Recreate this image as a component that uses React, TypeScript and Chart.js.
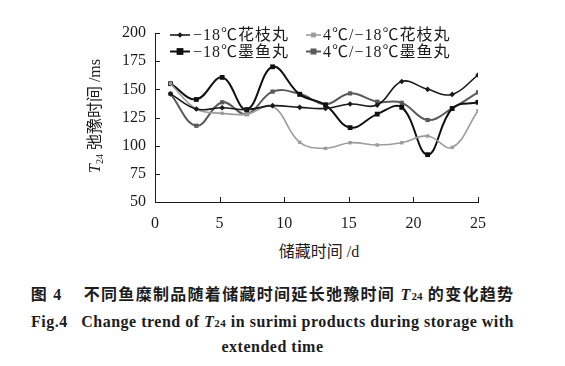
import React, { useEffect, useRef } from 'react';
import { Chart, registerables } from 'chart.js';
Chart.register(...registerables);

// storage days (x) of each measurement
const days = [1.2, 3.2, 5.2, 7.1, 9.1, 11.2, 13.2, 15.1, 17.2, 19.1, 21.1, 23.0, 25.0];
const seriesLabels = ['−18℃花枝丸', '4℃/−18℃花枝丸', '−18℃墨鱼丸', '4℃/−18℃墨鱼丸'];
const hzw18 = [146, 132.5, 133.7, 132, 135.5, 134, 133, 137, 136, 157, 150, 145.5, 162.7];
const hzw418 = [155, 132.5, 128.7, 128, 135, 103, 97.6, 102.6, 100.6, 102.6, 108.6, 98.5, 131];
const myw18 = [155, 141, 160.6, 132, 170, 145.5, 136, 116, 128, 134, 92, 133, 138.5];
const myw418 = [146, 117.7, 138.5, 128, 148, 146, 136.7, 146.4, 139, 138, 122.8, 133, 147.3];
const xTicks = [0, 5, 10, 15, 20, 25];
const yTicks = [50, 75, 100, 125, 150, 175, 200];

const SERIF = '"Liberation Serif", "Times New Roman", "Noto Sans CJK SC", serif';
const INK = '#1c1c1c';

const styles = [
  { color: '#1a1a1a', point: 'rectRot', r: 2.8, w: 1.6 },
  { color: '#9c9c9c', point: 'rect', r: 2.4, w: 1.6 },
  { color: '#101010', point: 'rect', r: 3.4, w: 2 },
  { color: '#5a5a5a', point: 'rect', r: 3, w: 2 },
];

const inwardTicks = {
  id: 'inwardTicks',
  afterDraw(chart: any) {
    const ctx = chart.ctx;
    const x = chart.scales.x;
    const y = chart.scales.y;
    const area = chart.chartArea;
    ctx.save();
    ctx.strokeStyle = INK;
    ctx.lineWidth = 1;
    ctx.beginPath();
    xTicks.forEach((v) => {
      const px = Math.round(x.getPixelForValue(v)) + 0.5;
      ctx.moveTo(px, area.bottom);
      ctx.lineTo(px, area.bottom - 5);
    });
    yTicks.forEach((v) => {
      const py = Math.round(y.getPixelForValue(v)) + 0.5;
      ctx.moveTo(area.left, py);
      ctx.lineTo(area.left + 5, py);
    });
    ctx.stroke();

    // legend
    const cols = [
      { x0: 170, x1: 190, tx: 193 },
      { x0: 306, x1: 321, tx: 323 },
    ];
    const rows = [35, 51.5];
    chart.data.datasets.forEach((ds: any, i: number) => {
      const c = cols[i % 2];
      const ry = rows[Math.floor(i / 2)];
      const st = styles[i];
      ctx.strokeStyle = st.color;
      ctx.lineWidth = st.w;
      ctx.beginPath();
      ctx.moveTo(c.x0, ry);
      ctx.lineTo(c.x1, ry);
      ctx.stroke();
      ctx.fillStyle = st.color;
      const mx = (c.x0 + c.x1) / 2;
      const r = st.r;
      if (st.point === 'rectRot') {
        ctx.beginPath();
        ctx.moveTo(mx, ry - r);
        ctx.lineTo(mx + r, ry);
        ctx.lineTo(mx, ry + r);
        ctx.lineTo(mx - r, ry);
        ctx.closePath();
        ctx.fill();
      } else {
        ctx.fillRect(mx - r, ry - r, 2 * r, 2 * r);
      }
      ctx.fillStyle = INK;
      ctx.font = `16px ${SERIF}`;
      (ctx as any).letterSpacing = '1px';
      ctx.textBaseline = 'middle';
      ctx.textAlign = 'left';
      ctx.fillText(ds.label, c.tx, ry + 1);
    });
    ctx.restore();
  },
};

export default function App() {
  const ref = useRef<HTMLCanvasElement | null>(null);
  useEffect(() => {
    if (!ref.current) return;
    const all = [hzw18, hzw418, myw18, myw418];
    const chart = new Chart(ref.current, {
      type: 'line',
      data: {
        datasets: all.map((vals, i) => ({
          label: seriesLabels[i],
          data: days.map((d, j) => ({ x: d, y: vals[j] })),
          borderColor: styles[i].color,
          backgroundColor: styles[i].color,
          borderWidth: styles[i].w,
          pointStyle: styles[i].point as any,
          pointRadius: styles[i].r,
          pointBorderWidth: 0,
          tension: 0.4,
          fill: false,
        })),
      },
      options: {
        animation: false,
        responsive: false,
        maintainAspectRatio: false,
        layout: { padding: { left: 0, right: 87, top: 33, bottom: 0 } },
        plugins: { legend: { display: false }, tooltip: { enabled: false } },
        scales: {
          x: {
            type: 'linear',
            min: 0,
            max: 25,
            afterBuildTicks: (s: any) => {
              s.ticks = xTicks.map((v) => ({ value: v }));
            },
            afterFit: (s: any) => {
              s.height = 38;
            },
            grid: { display: false, drawTicks: false },
            border: { display: true, color: INK, width: 1 },
            ticks: { color: INK, padding: 12, font: { family: SERIF, size: 16 } },
          },
          y: {
            type: 'linear',
            min: 50,
            max: 200,
            afterBuildTicks: (s: any) => {
              s.ticks = yTicks.map((v) => ({ value: v }));
            },
            afterFit: (s: any) => {
              s.width = 155;
            },
            grid: { display: false, drawTicks: false },
            border: { display: true, color: INK, width: 1 },
            ticks: { color: INK, padding: 9, font: { family: SERIF, size: 16 } },
          },
        },
      },
      plugins: [inwardTicks],
    });
    return () => chart.destroy();
  }, []);

  return (
    <div style={{ position: 'absolute', left: 0, top: 0, width: 565, height: 366, background: '#fff', color: INK, fontFamily: SERIF }}>
      <canvas ref={ref} width={565} height={240} style={{ position: 'absolute', left: 0, top: 0, width: 565, height: 240 }} />
      <div
        style={{
          position: 'absolute',
          left: 95 - 100,
          top: 116 - 11,
          width: 200,
          height: 22,
          lineHeight: '22px',
          fontSize: 16,
          textAlign: 'center',
          transform: 'rotate(-90deg)',
          whiteSpace: 'nowrap',
        }}
      >
        <i>T</i>
        <span style={{ fontSize: 10, verticalAlign: -3 }}>24</span> 弛豫时间 /ms
      </div>
      <div style={{ position: 'absolute', left: 219, top: 241, width: 200, textAlign: 'center', fontSize: 16, lineHeight: '22px', whiteSpace: 'nowrap' }}>
        储藏时间 /d
      </div>
      <div
        style={{
          position: 'absolute',
          left: 0,
          top: 284,
          width: 545,
          textAlign: 'center',
          fontSize: 16,
          lineHeight: '22px',
          fontWeight: 'bold',
          whiteSpace: 'nowrap',
          fontFamily: '"Liberation Serif", "Noto Sans CJK SC", serif',
          letterSpacing: '1.3px',
        }}
      >
        图 4&nbsp;&nbsp;&nbsp;&nbsp;不同鱼糜制品随着储藏时间延长弛豫时间 <i>T</i>
        <span style={{ fontSize: 11, letterSpacing: 0 }}>24</span> 的变化趋势
      </div>
      <div
        style={{
          position: 'absolute',
          left: 0,
          top: 311,
          width: 545,
          textAlign: 'center',
          fontSize: 16,
          lineHeight: '22px',
          fontWeight: 'bold',
          whiteSpace: 'nowrap',
          letterSpacing: '0.5px',
        }}
      >
        Fig.4&nbsp;&nbsp;&nbsp;Change trend of <i>T</i>
        <span style={{ fontSize: 11 }}>24</span> in surimi products during storage with
      </div>
      <div
        style={{
          position: 'absolute',
          left: 0,
          top: 336,
          width: 545,
          textAlign: 'center',
          fontSize: 16,
          lineHeight: '22px',
          fontWeight: 'bold',
          whiteSpace: 'nowrap',
          letterSpacing: '0.5px',
        }}
      >
        extended time
      </div>
    </div>
  );
}
